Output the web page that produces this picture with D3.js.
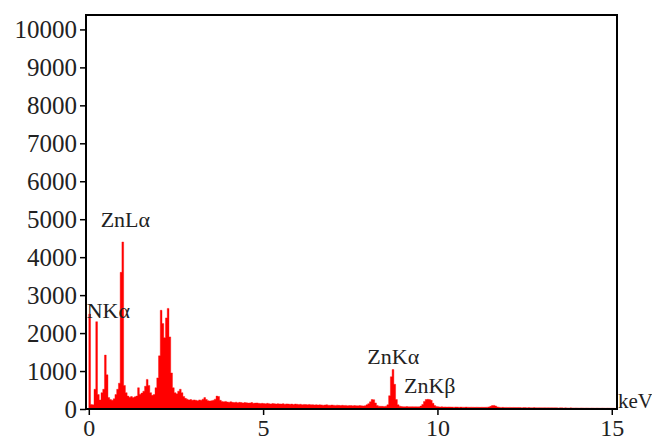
<!DOCTYPE html>
<html>
<head>
<meta charset="utf-8">
<script src="https://cdn.jsdelivr.net/npm/d3@7"></script>
<style>
  body { margin: 0; background: #fff; }
  text { font-family: "Liberation Serif", "Times New Roman", serif; fill: #222; }
</style>
</head>
<body>
<div id="chart"></div>
<script>
// EDS spectrum, channel width 0.05 keV, counts per channel
const channelWidth = 0.05;
const counts = [
  // 0 - 1 keV
  2500, 120, 110, 520, 2300, 380, 240, 430, 520, 1420, 900, 300, 250, 230, 270, 380, 520, 680, 3600, 4400,
  // 1 - 2 keV
  620, 430, 340, 310, 330, 300, 320, 340, 560, 390, 420, 470, 600, 780, 620, 430, 360, 380, 560, 820,
  // 2 - 3 keV
  1400, 2600, 2250, 1880, 2400, 2650, 1900, 950, 560, 430, 400, 470, 520, 430, 330, 280, 260, 240, 250, 230,
  // 3 - 4 keV
  240, 230, 220, 240, 230, 260, 300, 250, 220, 210, 220, 230, 260, 340, 330, 230, 200, 190, 200, 185,
  // 4 - 5 keV
  180, 190, 175, 170, 180, 165, 175, 170, 160, 170, 165, 155, 160, 170, 150, 155, 160, 150, 145, 150,
  // 5 - 6 keV
  145, 140, 150, 140, 135, 145, 140, 130, 140, 135, 130, 140, 125, 135, 130, 125, 130, 120, 130, 125,
  // 6 - 7 keV
  120, 125, 115, 120, 118, 112, 120, 110, 115, 108, 112, 105, 110, 108, 100, 105, 110, 100, 98, 105,
  // 7 - 8 keV
  100, 95, 102, 96, 92, 98, 90, 95, 88, 92, 90, 85, 92, 88, 84, 90, 86, 82, 88, 110,
  // 8 - 9 keV
  140, 190, 250, 245, 160, 95, 75, 72, 70, 68, 75, 110, 350, 850, 1040, 650, 250, 110, 75, 65,
  // 9 - 10 keV
  62, 60, 64, 58, 60, 62, 58, 60, 56, 58, 78, 120, 200, 250, 255, 250, 228, 150, 90, 68,
  // 10 - 11 keV
  60, 55, 58, 52, 55, 50, 54, 52, 50, 48, 52, 50, 47, 50, 48, 46, 50, 47, 45, 48,
  // 11 - 12 keV
  46, 44, 47, 45, 43, 46, 44, 45, 48, 55, 70, 90, 95, 80, 55, 45, 42, 44, 40, 42,
  // 12 - 13 keV
  40, 42, 38, 41, 39, 37, 40, 38, 36, 39, 37, 35, 38, 36, 34, 37, 35, 33, 36, 34,
  // 13 - 14 keV
  33, 35, 32, 34, 31, 33, 30, 32, 31, 29, 32, 30, 28, 31, 29, 27, 30, 28, 26, 29,
  // 14 - 15 keV
  27, 25, 28, 26, 24, 27, 25, 23, 26, 24, 22, 25, 23, 21, 24, 22, 20, 23, 21, 20,
  // 15 keV+
  20, 18, 19
];

const xTicks = [0, 5, 10, 15];
const yTicks = [0, 1000, 2000, 3000, 4000, 5000, 6000, 7000, 8000, 9000, 10000];

// peak labels, anchored at (energy, count) of the text's start / baseline
const peakLabels   = ["ZnL\u03b1", "NK\u03b1", "ZnK\u03b1", "ZnK\u03b2"];
const labelEnergy  = [0.34, -0.06, 7.99, 9.04];
const labelCount   = [4800, 2400, 1185, 415];

const W = 652, H = 442;
const plot = { left: 86, right: 617, top: 15, bottom: 409 };

const svg = d3.select("#chart").append("svg")
  .attr("width", W)
  .attr("height", H);

svg.append("rect").attr("width", W).attr("height", H).attr("fill", "#fff");

const x = d3.scaleLinear().domain([-0.08, 15.15]).range([plot.left, plot.right]);
const y = d3.scaleLinear().domain([0, 10380]).range([plot.bottom, plot.top]);

const spectrum = counts.map((c, i) => ({ e: i * channelWidth, c: c }));

svg.append("clipPath").attr("id", "clip")
  .append("rect")
  .attr("x", plot.left).attr("y", plot.top)
  .attr("width", plot.right - plot.left).attr("height", plot.bottom - plot.top);

const area = d3.area()
  .x(d => x(d.e))
  .y0(y(0))
  .y1(d => y(d.c))
  .curve(d3.curveStepAfter);

svg.append("path")
  .datum(spectrum)
  .attr("clip-path", "url(#clip)")
  .attr("fill", "#ff0000")
  .attr("stroke", "#ff0000")
  .attr("stroke-width", 0.4)
  .attr("d", area);

// Y axis
const yAxis = svg.append("g")
  .attr("transform", `translate(${plot.left},0)`)
  .call(d3.axisLeft(y).tickValues(yTicks).tickSize(6).tickPadding(3).tickFormat(d3.format("d")));
yAxis.select(".domain").remove();
yAxis.selectAll("line").attr("stroke", "#000").attr("stroke-width", 1.5);
yAxis.selectAll("text").style("font-size", "25px").attr("fill", "#222");

// X axis
const xAxis = svg.append("g")
  .attr("transform", `translate(0,${plot.bottom})`)
  .call(d3.axisBottom(x).tickValues(xTicks).tickSize(6).tickPadding(4).tickFormat(d3.format("d")));
xAxis.select(".domain").remove();
xAxis.selectAll("line").attr("stroke", "#000").attr("stroke-width", 1.5);
xAxis.selectAll("text").style("font-size", "24px").attr("fill", "#222");

// Frame
svg.append("rect")
  .attr("x", plot.left).attr("y", plot.top)
  .attr("width", plot.right - plot.left).attr("height", plot.bottom - plot.top)
  .attr("fill", "none")
  .attr("stroke", "#000")
  .attr("stroke-width", 2);

// keV unit
svg.append("text")
  .attr("x", plot.right + 1)
  .attr("y", plot.bottom - 1)
  .style("font-size", "21px")
  .text("keV");

// Peak labels
svg.selectAll("text.peak")
  .data(peakLabels)
  .enter()
  .append("text")
  .attr("class", "peak")
  .attr("x", (d, i) => x(labelEnergy[i]))
  .attr("y", (d, i) => y(labelCount[i]))
  .style("font-size", "22px")
  .text(d => d);
</script>
</body>
</html>
